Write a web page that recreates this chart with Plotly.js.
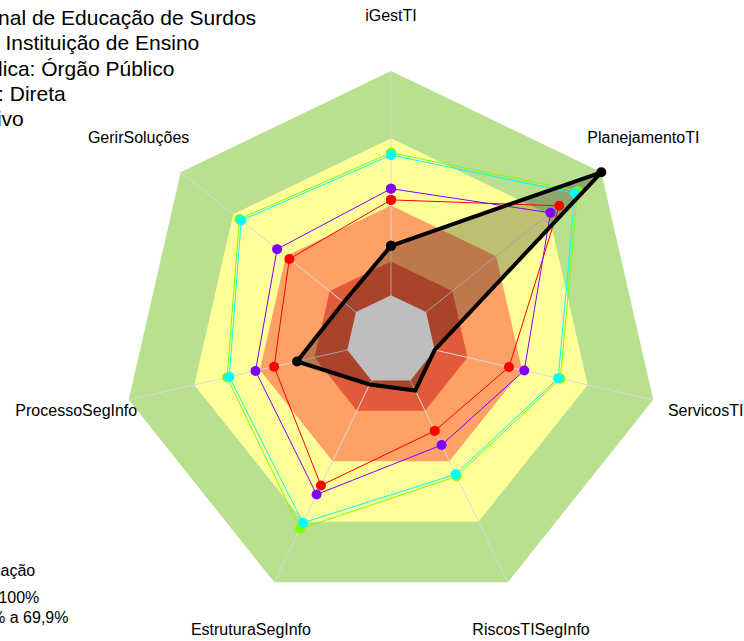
<!DOCTYPE html>
<html>
<head>
<meta charset="utf-8">
<script src="https://cdn.plot.ly/plotly-3.0.1.min.js"></script>
<style>html,body{margin:0;padding:0;background:#fff;overflow:hidden;}#wrap{width:744px;height:641px;overflow:hidden;}#chart{width:744px;height:700px;}</style>
</head>
<body>
<div id="wrap"><div id="chart"></div></div>
<script>
// ---- data ----
const categories = ['iGestTI','PlanejamentoTI','ServicosTI','RiscosTISegInfo','EstruturaSegInfo','ProcessoSegInfo','GerirSoluções'];
const orgName = 'Instituto Nacional de Educação de Surdos';
const orgValues = [22, 100, 0, 5, 2, 23, 7];
const redValues = [42.5, 76, 34, 25, 52, 33.5, 38];
const limeValues = [63.5, 86.5, 57.5, 47.5, 73.5, 55, 66.5];
const cyanValues = [62.5, 85, 56.5, 46.5, 70.5, 54, 65.5];
const purpleValues = [47.5, 71, 41, 32, 56.5, 42, 45];
const bandLimits = [100, 70, 40, 15];
const bandColors = ['#B8E08F', '#FFFF99', '#FFA066', '#E25A3A'];
const coreColor = '#BEBEBE';
const titleLines = [orgName, 'Tipo de órgão: Instituição de Ensino', 'Natureza Jurídica: Órgão Público', 'Administração: Direta', 'Poder: Executivo'];
const legendTitle = 'Classificação';
const legendLabels = ['Aprimorado: 70% a 100%', 'Intermediário: 40% a 69,9%'];

// ---- helpers ----
const closeArr = a => a.concat([a[0]]);
const thetaClosed = closeArr(categories);
const FONT = 'Liberation Sans, Arial, sans-serif';
const traces = [];

// background bands
bandLimits.forEach((lim, i) => {
  traces.push({
    type: 'scatterpolar', r: thetaClosed.map(() => lim), theta: thetaClosed,
    mode: 'lines', fill: 'toself', fillcolor: bandColors[i],
    line: {width: 0, color: bandColors[i]}, hoverinfo: 'skip', showlegend: false, cliponaxis: false
  });
});

// spokes
const spokeR = [], spokeT = [];
categories.forEach(c => { spokeR.push(-20, 100, null); spokeT.push(c, c, c); });
traces.push({type: 'scatterpolar', r: spokeR, theta: spokeT, mode: 'lines',
  line: {color: '#D9D9D9', width: 1}, hoverinfo: 'skip', showlegend: false, cliponaxis: false});

// organisation fill (semi-transparent)
traces.push({type: 'scatterpolar', r: closeArr(orgValues), theta: thetaClosed, mode: 'lines',
  fill: 'toself', fillcolor: 'rgba(0,0,0,0.25)', line: {width: 0, color: 'rgba(0,0,0,0)'},
  hoverinfo: 'skip', showlegend: false, cliponaxis: false});

// grey core
traces.push({type: 'scatterpolar', r: thetaClosed.map(() => 0), theta: thetaClosed, mode: 'lines',
  fill: 'toself', fillcolor: coreColor, line: {width: 0, color: coreColor},
  hoverinfo: 'skip', showlegend: false, cliponaxis: false});

// comparison series
[[redValues, '#FF0000', 'Série 1'], [limeValues, '#80FF00', 'Série 2'],
 [cyanValues, '#00FFFF', 'Série 3'], [purpleValues, '#8000FF', 'Série 4']].forEach(([vals, col, nm]) => {
  traces.push({type: 'scatterpolar', name: nm, r: closeArr(vals), theta: thetaClosed,
    mode: 'lines+markers', line: {color: col, width: 1}, marker: {color: col, size: 10},
    showlegend: false, cliponaxis: false});
});

// organisation line
traces.push({type: 'scatterpolar', name: orgName, r: closeArr(orgValues), theta: thetaClosed,
  mode: 'lines+markers', line: {color: '#000000', width: 4}, marker: {color: '#000000', size: 10},
  showlegend: false, cliponaxis: false});

// axis labels
traces.push({type: 'scatterpolar', r: categories.map(() => 124), theta: categories, mode: 'text',
  text: categories, textposition: 'middle center', textfont: {family: FONT, size: 16, color: '#000'},
  hoverinfo: 'skip', showlegend: false, cliponaxis: false});

// ---- layout ----
const W = 744, H = 700;          // svg taller than the 641px window; bottom is cropped by the wrapper
const cx = 391, cy = 340, R100 = 269;
const rMin = -20, rMax = 125;
const Rtot = R100 * (rMax - rMin) / (100 - rMin);
const annotations = [];
const titleY = [18, 43, 68, 93.5, 118];
titleLines.forEach((t, i) => annotations.push({
  text: t, xref: 'paper', yref: 'paper', x: -137 / W, y: 1 - titleY[i] / H,
  xanchor: 'left', yanchor: 'middle', showarrow: false, font: {family: FONT, size: 21, color: '#000'}
}));
annotations.push({text: legendTitle, xref: 'paper', yref: 'paper', x: 37 / W, y: 1 - 570 / H,
  xanchor: 'right', yanchor: 'middle', showarrow: false, font: {family: FONT, size: 16, color: '#000'}});
const legY = [597, 617], legX = [41, 70];
legendLabels.forEach((t, i) => annotations.push({
  text: t, xref: 'paper', yref: 'paper', x: legX[i] / W, y: 1 - legY[i] / H,
  xanchor: 'right', yanchor: 'middle', showarrow: false, font: {family: FONT, size: 16, color: '#000'}
}));

const layout = {
  width: W, height: H,
  margin: {l: 0, r: 0, t: 0, b: 0, pad: 0},
  paper_bgcolor: '#FFFFFF',
  showlegend: false,
  font: {family: FONT, color: '#000'},
  polar: {
    domain: {x: [(cx - Rtot) / W, (cx + Rtot) / W], y: [(H - cy - Rtot) / H, (H - cy + Rtot) / H]},
    gridshape: 'linear',
    bgcolor: 'rgba(0,0,0,0)',
    radialaxis: {range: [rMin, rMax], visible: false, showgrid: false, showline: false, showticklabels: false, ticks: ''},
    angularaxis: {type: 'category', categoryarray: categories, rotation: 90, direction: 'clockwise',
      showgrid: false, showline: false, showticklabels: false, ticks: ''}
  },
  annotations: annotations
};

Plotly.newPlot('chart', traces, layout, {displayModeBar: false, staticPlot: true});
</script>
</body>
</html>
